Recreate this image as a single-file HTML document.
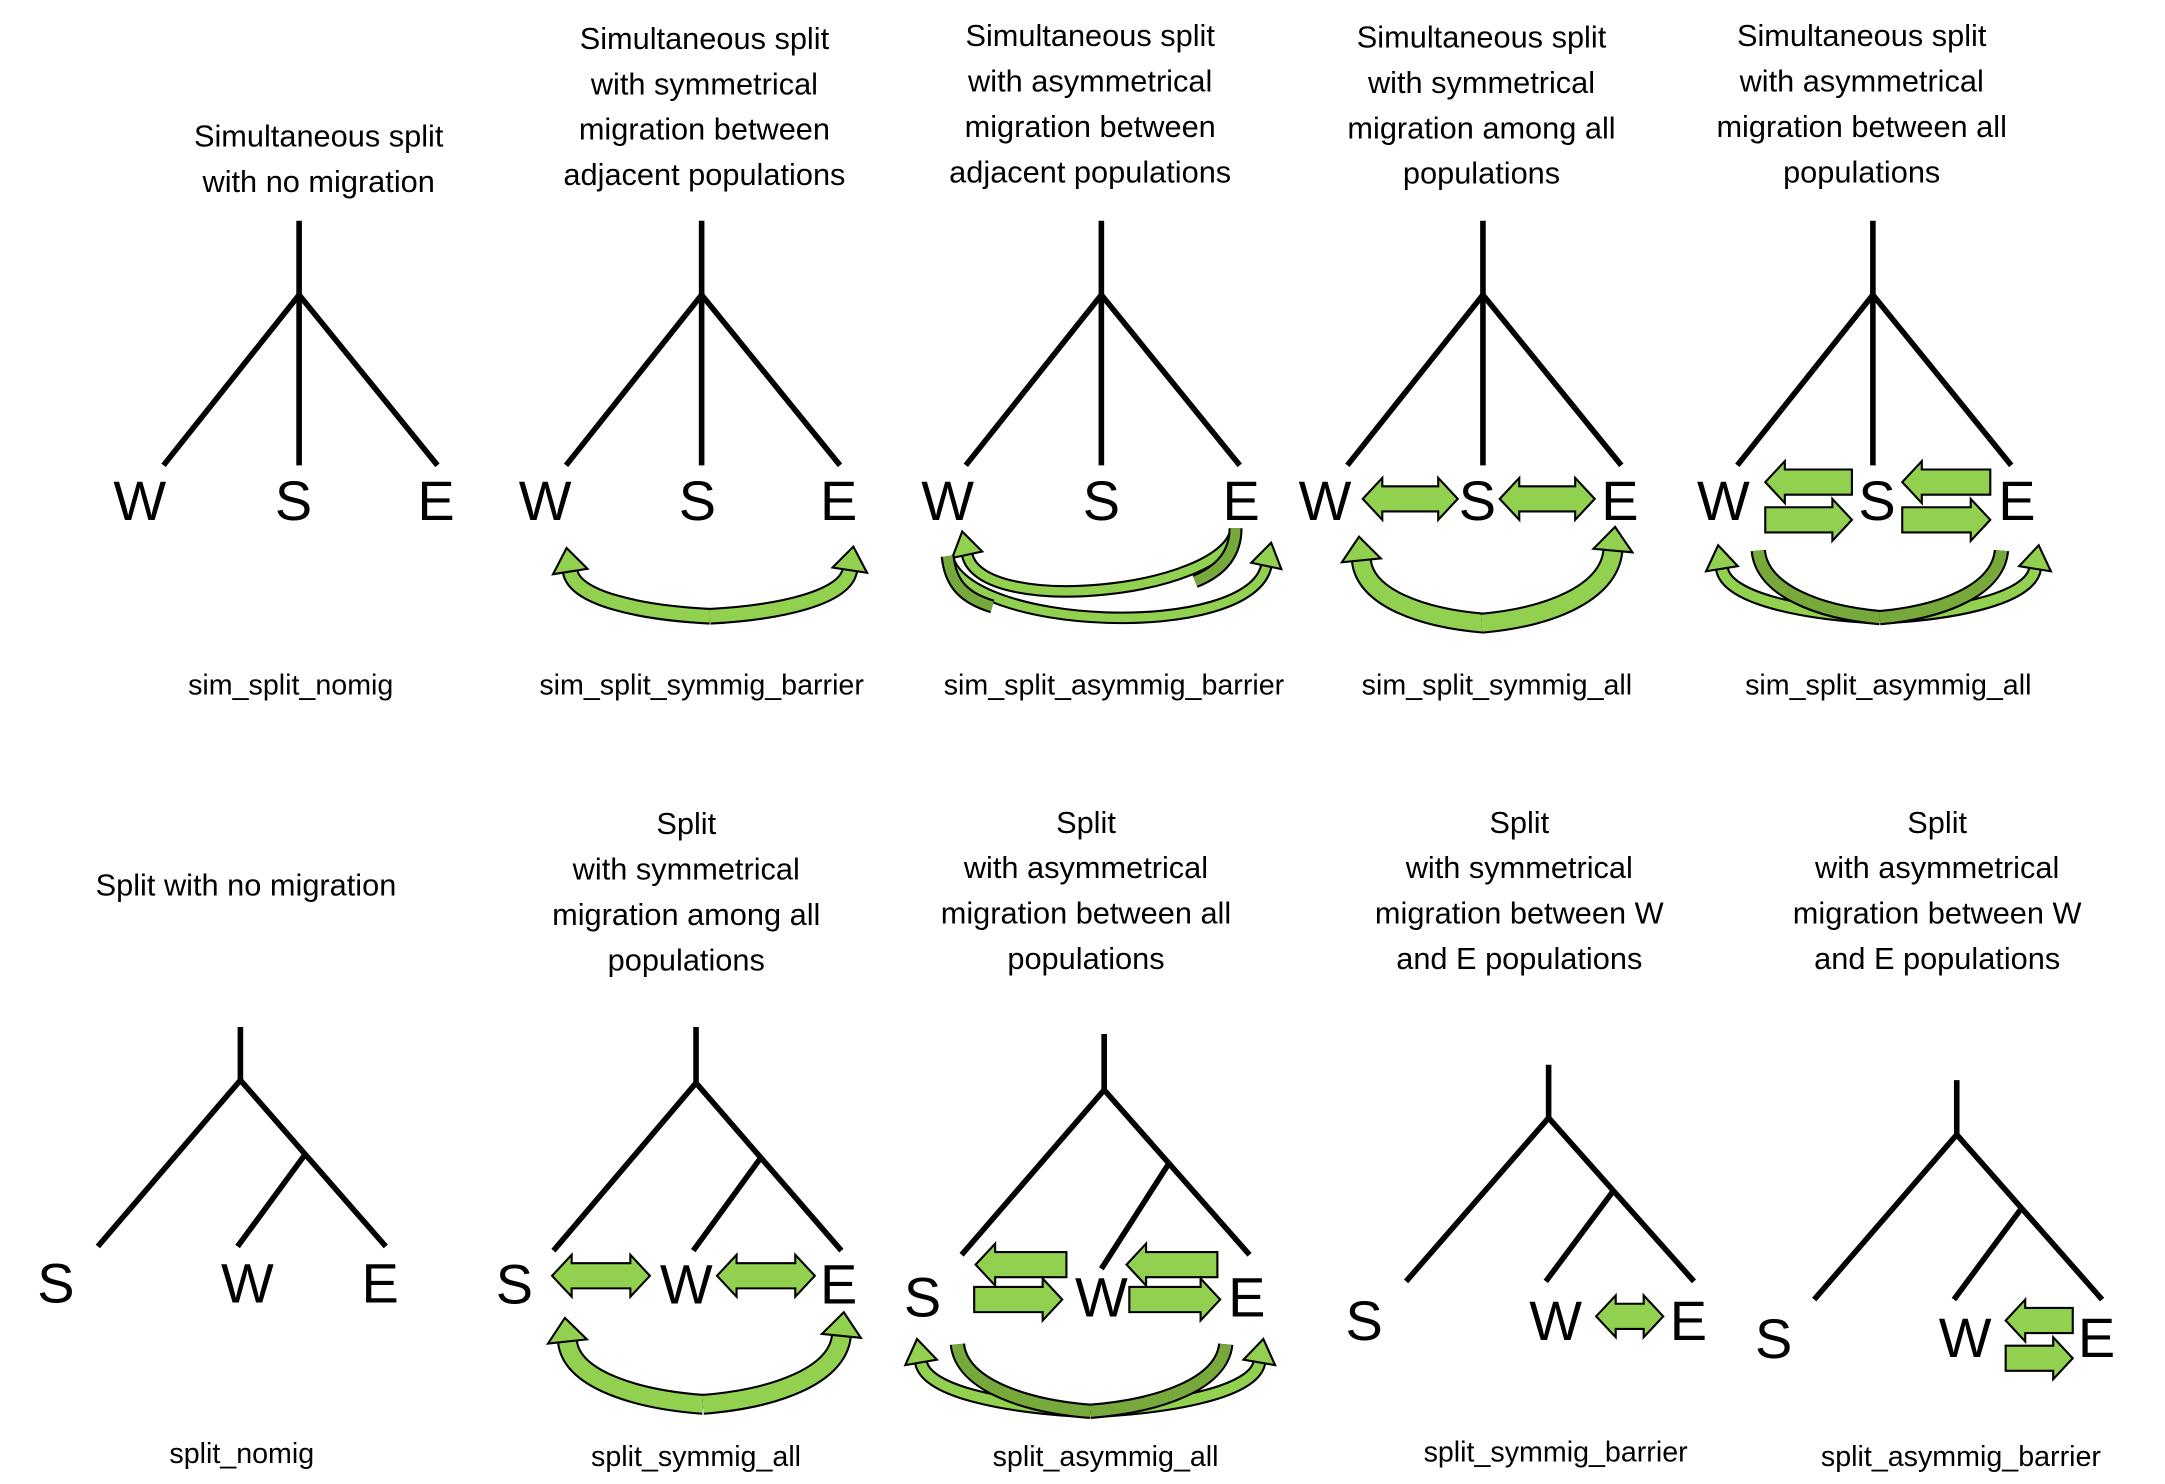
<!DOCTYPE html>
<html><head><meta charset="utf-8"><style>
html,body{margin:0;padding:0;background:#fff;}
svg{display:block;}
text{font-family:"Liberation Sans",sans-serif;fill:#000;}
</style></head><body>
<svg id="fig" width="2165" height="1484" viewBox="0 0 1549 1062" preserveAspectRatio="none" xmlns="http://www.w3.org/2000/svg"></svg>
<script>
const titles = [
 ["Simultaneous split","with no migration"],
 ["Simultaneous split","with symmetrical","migration between","adjacent populations"],
 ["Simultaneous split","with asymmetrical","migration between","adjacent populations"],
 ["Simultaneous split","with symmetrical","migration among all","populations"],
 ["Simultaneous split","with asymmetrical","migration between all","populations"],
 ["Split with no migration"],
 ["Split","with symmetrical","migration among all","populations"],
 ["Split","with asymmetrical","migration between all","populations"],
 ["Split","with symmetrical","migration between W","and E populations"],
 ["Split","with asymmetrical","migration between W","and E populations"]
];
const titleX = [228,504,780,1060,1332,176,491,777,1087,1386];
const titleY0 = [97,27,25,26,25,633,589,588,588,588];
const captions = ["sim_split_nomig","sim_split_symmig_barrier","sim_split_asymmig_barrier","sim_split_symmig_all","sim_split_asymmig_all","split_nomig","split_symmig_all","split_asymmig_all","split_symmig_barrier","split_asymmig_barrier"];
const capX = [208,502,797,1071,1351,173,498,791,1113,1403];
const capY = [497,497,497,497,497,1047,1049,1049,1046,1049];

const svg=document.getElementById('fig');
const NS="http://www.w3.org/2000/svg";
function el(tag,attrs,parent){const e=document.createElementNS(NS,tag);for(const k in attrs)e.setAttribute(k,attrs[k]);(parent||svg).appendChild(e);return e;}
const LIGHT="#92d050", DARK="#76a83c";

function line(g,x1,y1,x2,y2,name){
  const l=el('line',{x1,y1,x2,y2,stroke:'#000','stroke-width':4,'stroke-linecap':'butt'},g);
  
  
}
function label(g,t,x,y,name){
  const e=el('text',{x,y,'text-anchor':'middle','font-size':40},g);e.textContent=t;
  
  
}
function harrow(g,x1,x2,y,heads,name){
  const h=9, hh=15, hl=14;
  let pts=[];
  const L=heads!=='right', R=heads!=='left';
  const a=L?x1+hl:x1, b=R?x2-hl:x2;
  pts.push([a,y-h]);pts.push([b,y-h]);
  if(R){pts.push([b,y-hh]);pts.push([x2,y]);pts.push([b,y+hh]);}
  pts.push([b,y+h]);pts.push([a,y+h]);
  if(L){pts.push([a,y+hh]);pts.push([x1,y]);pts.push([a,y-hh]);}
  const p=el('polygon',{points:pts.map(p=>p.join(',')).join(' '),fill:LIGHT,stroke:'#000','stroke-width':1.5},g);
  
  
}
const HL=17;
function drawCubic(g,P0,C1,C2,E,color,head,name,w){
  let dx=E[0]-C2[0], dy=E[1]-C2[1]; const len=Math.hypot(dx,dy)||1; dx/=len; dy/=len;
  const grp=el('g',{},g);
  
  
  const d=`M${P0[0]},${P0[1]} C${C1[0]},${C1[1]} ${C2[0]},${C2[1]} ${E[0]},${E[1]}`;
  el('path',{d,fill:'none',stroke:'#000','stroke-width':w+3},grp);
  el('path',{d,fill:'none',stroke:color,'stroke-width':w},grp);
  if(head){
    const px=-dy, py=dx, hw=w/2+8, tx=E[0]+dx*HL, ty=E[1]+dy*HL;
    const pts=[[tx,ty],[E[0]+px*hw,E[1]+py*hw],[E[0]-px*hw,E[1]-py*hw]];
    el('polygon',{points:pts.map(p=>p.join(',')).join(' '),fill:color,stroke:'#000','stroke-width':1.5},grp);
  }
}
function halfArc(g,bx,by,x2,y2,color,head,name,w){
  const ey=head?y2+HL:y2;
  const h=by-ey;
  drawCubic(g,[bx,by],[bx+(x2-bx)*0.5,by-h*0.08],[x2+(bx-x2)*0.03,ey+h*0.6],[x2,ey],color,head,name,w||9);
}
function fullArc(g,x0,y0,x2,y2,by,color,head,name,w){
  const ey=head?y2+HL:y2;
  const d=(by-(y0+ey)/2)/0.75;
  drawCubic(g,[x0,y0],[x0+(x2-x0)*0.05,y0+d],[x2-(x2-x0)*0.05,ey+d],[x2,ey],color,head,name,w||7);
}

titles.forEach((lines,i)=>{
  const t=el('text',{x:titleX[i],y:titleY0[i]+8,'text-anchor':'middle','font-size':22});
  
  
  lines.forEach((ln,j)=>{const s=el('tspan',{x:titleX[i],dy:j?32.5:0},t);s.textContent=ln;});
  const c=el('text',{x:capX[i],y:capY[i],'text-anchor':'middle','font-size':20.5});
  c.textContent=captions[i];
  
  
});

const topRoot=[214,502,788,1061,1340];
const topLabelX=[[100,210,312],[390,499,600],[678,788,888],[948,1057,1159],[1233,1343,1443]];
topRoot.forEach((rx,i)=>{
  const g=el('g',{});
  
  
  line(g,rx,158,rx,211,'root-branch');
  line(g,rx,211,rx-97,333,'w-branch');
  line(g,rx,211,rx,333,'s-branch');
  line(g,rx,211,rx+99,333,'e-branch');
  const lx=topLabelX[i];
  label(g,'W',lx[0],372,'label-w');label(g,'S',lx[1],372,'label-s');label(g,'E',lx[2],372,'label-e');
});
const botRoot=[[172,735,773],[498,735,775],[790,740,780],[1108,762,800],[1400,773,812]];
const botLeaf=[892,895,898,917,930];
const botLabels=[[[40,932],[177,932],[272,932]],[[368,933],[491,933],[600,933]],[[660,942],[788,942],[892,942]],[[976,959],[1113,959],[1208,959]],[[1269,972],[1406,971],[1500,971]]];
botRoot.forEach(([rx,y0,y1],i)=>{
  const g=el('g',{});
  
  
  const ly=botLeaf[i];
  line(g,rx,y0,rx,y1,'root-branch');
  line(g,rx,y1,rx-102,ly,'s-branch');
  line(g,rx,y1,rx+104,ly,'e-branch');
  const nx=rx+46, ny=y1+(ly-y1)*0.45;
  line(g,nx,ny,nx-48,ly+(i===2?10:0),'w-branch');
  const L=botLabels[i];
  label(g,'S',L[0][0],L[0][1],'label-s');label(g,'W',L[1][0],L[1][1],'label-w');label(g,'E',L[2][0],L[2][1],'label-e');
});

const ag=el('g',{});


// panel 2
halfArc(ag,508,441,408,392,LIGHT,true,'arrow-to-w',9);
halfArc(ag,508,441,608,391,LIGHT,true,'arrow-to-e',9);
// panel 3
fullArc(ag,884,380,692,380,422,LIGHT,true,'arrow-e-to-w',6);
drawCubic(ag,[884,378],[884,395],[875,408],[855,416],DARK,false,'arrow-e-tail',7);
fullArc(ag,678,398,906,388,442,LIGHT,true,'arrow-w-to-e',6);
drawCubic(ag,[678,398],[680,418],[690,428],[710,434],DARK,false,'arrow-w-tail',7);
// panel 4
harrow(ag,975,1043,357,'both','arrow-w-s');harrow(ag,1073,1141,357,'both','arrow-s-e');
halfArc(ag,1062,446,974,384,LIGHT,true,'arrow-to-w',12);
halfArc(ag,1060,446,1154,377,LIGHT,true,'arrow-to-e',12);
// panel 5
harrow(ag,1263,1325,345,'left','arrow-s-to-w');harrow(ag,1263,1325,372,'right','arrow-w-to-s');
harrow(ag,1361,1424,345,'left','arrow-e-to-s');harrow(ag,1361,1424,372,'right','arrow-s-to-e');
halfArc(ag,1345,442,1232,390,LIGHT,true,'arrow-to-w',7);
halfArc(ag,1345,442,1456,390,LIGHT,true,'arrow-to-e',7);
halfArc(ag,1345,442,1258,394,DARK,false,'arrow-from-w',8);
halfArc(ag,1345,442,1432,394,DARK,false,'arrow-from-e',8);
// panel 7
harrow(ag,395,465,913,'both','arrow-s-w');harrow(ag,513,583,913,'both','arrow-w-e');
halfArc(ag,503,1005,406,943,LIGHT,true,'arrow-to-s',12);
halfArc(ag,503,1005,602,939,LIGHT,true,'arrow-to-e',12);
// panel 8
harrow(ag,698,763,905,'left','arrow-w-to-s');harrow(ag,697,760,930,'right','arrow-s-to-w');
harrow(ag,806,871,905,'left','arrow-e-to-w');harrow(ag,808,873,930,'right','arrow-w-to-e');
halfArc(ag,780,1010,659,958,LIGHT,true,'arrow-to-s',7);
halfArc(ag,780,1010,901,958,LIGHT,true,'arrow-to-e',7);
halfArc(ag,780,1010,685,962,DARK,false,'arrow-from-s',8);
halfArc(ag,780,1010,877,962,DARK,false,'arrow-from-e',8);
// panel 9
harrow(ag,1142,1190,942,'both','arrow-w-e');
// panel 10
harrow(ag,1435,1483,945,'left','arrow-e-to-w');harrow(ag,1435,1483,972,'right','arrow-w-to-e');
</script>
</body></html>
